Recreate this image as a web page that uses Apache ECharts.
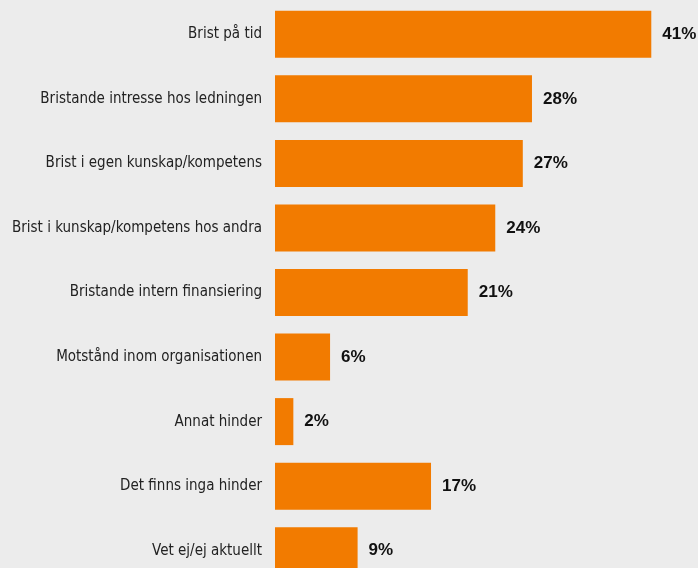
<!DOCTYPE html>
<html>
<head>
<meta charset="utf-8">
<script src="https://cdn.jsdelivr.net/npm/echarts@6/dist/echarts.min.js"></script>
<style>
  html, body { margin: 0; padding: 0; background: #ececec; }
  #chart { width: 698px; height: 568px; }
</style>
</head>
<body>
<div id="chart"></div>
<script>
// Hinder, share of respondents (%)
const categories = [
  'Brist på tid',
  'Bristande intresse hos ledningen',
  'Brist i egen kunskap/kompetens',
  'Brist i kunskap/kompetens hos andra',
  'Bristande intern finansiering',
  'Motstånd inom organisationen',
  'Annat hinder',
  'Det finns inga hinder',
  'Vet ej/ej aktuellt'
];
const values = [41, 28, 27, 24, 21, 6, 2, 17, 9];

const fontStack = '"Liberation Sans Narrow", "DejaVu Sans Condensed", "Roboto Condensed", "Liberation Sans", sans-serif';

const chart = echarts.init(document.getElementById('chart'));
chart.setOption({
  backgroundColor: '#ececec',
  animation: false,
  // the plot runs past the bottom edge, so the last bar is clipped
  grid: {
    left: 275, right: 10, top: 2, height: 581,
    containLabel: false,
    outerBoundsMode: 'none'
  },
  xAxis: {
    type: 'value',
    min: 0,
    max: 45,
    show: false
  },
  yAxis: {
    type: 'category',
    data: categories,
    inverse: true,
    axisLine: { show: false },
    axisTick: { show: false },
    axisLabel: {
      margin: 13,
      color: '#222222',
      fontSize: 15,
      padding: [0, 0, 4, 0],
      fontFamily: fontStack
    }
  },
  series: [{
    type: 'bar',
    data: values,
    barWidth: 47,
    itemStyle: { color: '#f27b00' },
    label: {
      show: true,
      position: 'right',
      distance: 11,
      padding: [0, 0, 3, 0],
      formatter: '{c}%',
      color: '#111111',
      fontSize: 17,
      fontWeight: 'bold',
      fontFamily: '"Liberation Sans", Arial, sans-serif'
    }
  }]
});
</script>
</body>
</html>
